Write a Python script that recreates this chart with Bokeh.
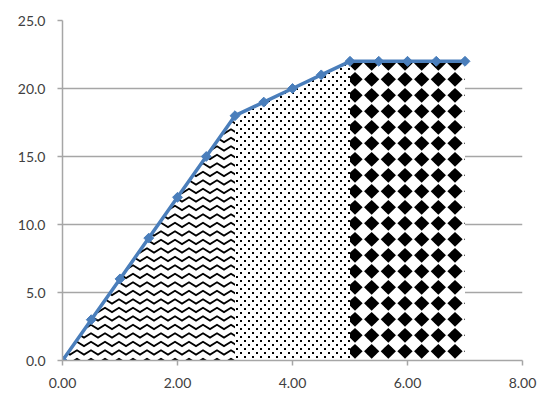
from bokeh.plotting import figure
from bokeh.models import FixedTicker, NumeralTickFormatter, CanvasTexture
from bokeh.core.properties import value
from bokeh.embed import file_html
from bokeh.resources import INLINE
import numpy as np

# series values
x_vals = [0.0, 0.5, 1.0, 1.5, 2.0, 2.5, 3.0, 3.5, 4.0, 4.5, 5.0, 5.5, 6.0, 6.5, 7.0]
y_vals = [0, 3, 6, 9, 12, 15, 18, 19, 20, 21, 22, 22, 22, 22, 22]

# x positions where the shaded bands change texture
band_breaks = [0.0, 3.0, 5.0, 7.0]

x_ticks = [0, 2, 4, 6, 8]
y_ticks = [0, 5, 10, 15, 20, 25]

LINE = "#4a7ebb"
GRID = "#a6a6a6"
TEXT = "#404040"

# hand-drawn fill textures
zigzag = CanvasTexture(code="""
const c = ctx.canvas; c.width = 14; c.height = 17;
ctx.strokeStyle = 'black'; ctx.lineWidth = 1.9; ctx.lineJoin = 'miter';
for (const y0 of [4, 12.5]) {
  ctx.beginPath();
  ctx.moveTo(-7, y0 - 2.2); ctx.lineTo(0, y0 + 2.2); ctx.lineTo(7, y0 - 2.2); ctx.lineTo(14, y0 + 2.2); ctx.lineTo(21, y0 - 2.2);
  ctx.stroke();
}
""")

dots = CanvasTexture(code="""
const c = ctx.canvas; c.width = 8; c.height = 8;
ctx.fillStyle = 'black';
ctx.fillRect(0, 0, 2, 2);
ctx.fillRect(4, 4, 2, 2);
""")

diamonds = CanvasTexture(code="""
const c = ctx.canvas; c.width = 50; c.height = 16;
ctx.fillStyle = 'black';
const step = 50 / 3;
for (let k = -1; k <= 3; k++) {
  const cx = 5 + step * k;
  for (const cy of [-0.7, 15.3]) {
    ctx.beginPath();
    ctx.moveTo(cx - 7.6, cy); ctx.lineTo(cx, cy - 7.4); ctx.lineTo(cx + 7.6, cy); ctx.lineTo(cx, cy + 7.4);
    ctx.closePath(); ctx.fill();
    ctx.beginPath(); ctx.arc(cx, cy, 5.0, 0, 2 * Math.PI); ctx.fill();
  }
}
""")

textures = [("zz", zigzag), ("dd", dots), ("dm", diamonds)]

p = figure(width=537, height=397, x_range=(0, 8), y_range=(0, 25),
           min_border_left=62, min_border_right=15, min_border_top=20, min_border_bottom=37,
           toolbar_location=None, output_backend="svg")
p.outline_line_color = None
p.background_fill_color = "white"

xs = np.array(x_vals)
ys = np.array(y_vals, dtype=float)
for (lo, hi), (name, tex) in zip(zip(band_breaks[:-1], band_breaks[1:]), textures):
    m = (xs >= lo) & (xs <= hi)
    p.varea(x=xs[m], y1=0, y2=ys[m], fill_color="white",
            hatch_pattern=value(name), hatch_extra={name: tex}, hatch_color="black")

p.line(x_vals, y_vals, line_color=LINE, line_width=3.5, line_join="round")
p.scatter(x_vals, y_vals, marker="square", angle=np.pi / 4, size=7,
          fill_color=LINE, line_color=LINE)

# axes
p.xaxis.ticker = FixedTicker(ticks=x_ticks)
p.yaxis.ticker = FixedTicker(ticks=y_ticks)
p.xaxis.formatter = NumeralTickFormatter(format="0.00")
p.yaxis.formatter = NumeralTickFormatter(format="0.0")
for ax in (p.xaxis[0], p.yaxis[0]):
    ax.axis_line_color = GRID
    ax.axis_line_width = 1.5
    ax.major_tick_line_color = GRID
    ax.major_tick_line_width = 1.5
    ax.major_tick_in = 0
    ax.major_tick_out = 5
    ax.minor_tick_line_color = None
    ax.major_label_text_font = "Lato"
    ax.major_label_text_font_size = "14px"
    ax.major_label_text_color = TEXT
    ax.major_label_standoff = 12

p.xgrid.visible = False
p.ygrid.grid_line_color = GRID
p.ygrid.grid_line_width = 1.5

open("out.html", "w").write(file_html(p, INLINE))
